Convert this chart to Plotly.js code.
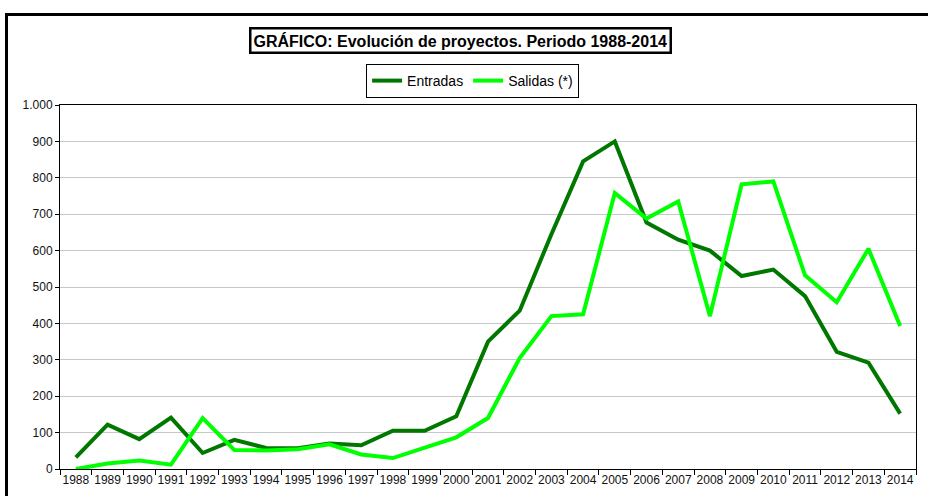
<!DOCTYPE html>
<html><head><meta charset="utf-8">
<script src="https://cdn.plot.ly/plotly-3.0.1.min.js"></script>
<style>
html,body{margin:0;padding:0;background:#fff;}
#wrap{position:relative;width:928px;height:496px;overflow:hidden;}
#frame{position:absolute;left:5px;top:13px;width:940px;height:500px;border-left:3px solid #000;border-top:3px solid #000;pointer-events:none;z-index:5;}
#chart{position:absolute;left:0;top:0;width:928px;height:496px;}
</style></head>
<body><div id="wrap"><div id="chart"></div><div id="frame"></div></div>
<script>
const years = ["1988","1989","1990","1991","1992","1993","1994","1995","1996","1997","1998","1999","2000","2001","2002","2003","2004","2005","2006","2007","2008","2009","2010","2011","2012","2013","2014"];
const entradas = [32,122,82,141,44,80,58,57,70,65,105,105,145,350,435,645,845,900,677,630,600,530,548,475,322,292,152];
const salidas = [0,15,23,12,140,52,51,54,68,40,30,58,87,140,305,420,425,758,688,735,420,782,790,532,458,605,393];
const yTicks = [0,100,200,300,400,500,600,700,800,900,1000];

const traces = [
  {x: years, y: entradas, type: 'scatter', mode: 'lines', name: 'Entradas',
   line: {color: '#007800', width: 4}},
  {x: years, y: salidas, type: 'scatter', mode: 'lines', name: 'Salidas (*)',
   line: {color: '#00FF00', width: 4}}
];

const layout = {
  width: 928, height: 496,
  margin: {l: 60, r: 12, t: 105, b: 27},
  paper_bgcolor: '#fff', plot_bgcolor: '#fff',
  font: {family: 'Liberation Sans, Arial, sans-serif', size: 12, color: '#111'},
  separators: ',.',
  showlegend: true,
  legend: {orientation: 'h', x: 0.482, xanchor: 'center', y: 1.1126, yanchor: 'top',
    xref: 'paper', yref: 'paper',
    bordercolor: '#000', borderwidth: 1, bgcolor: '#fff',
    font: {size: 14, family: 'Liberation Sans, Arial, sans-serif', color: '#000'}, itemwidth: 30,
    tracegroupgap: 0},
  annotations: [{
    text: '<b>GRÁFICO: Evolución de proyectos. Periodo 1988-2014</b>',
    xref: 'paper', yref: 'paper', x: 0.468, y: 1.177, xanchor: 'center', yanchor: 'middle',
    showarrow: false,
    font: {size: 16, family: 'Liberation Sans, Arial, sans-serif', color: '#000'},
    bordercolor: '#000', borderwidth: 2.5, borderpad: 2, bgcolor: '#fff'
  }],
  xaxis: {type: 'category', range: [-0.5, 26.5], showgrid: false,
    showline: true, linecolor: '#000', linewidth: 1, mirror: true,
    ticks: 'outside', tickson: 'boundaries', ticklen: 5, tickcolor: '#000',
    tickangle: 0, tickfont: {size: 12}, fixedrange: true},
  yaxis: {range: [0, 1000], tickvals: yTicks, tickformat: ',d',
    showgrid: true, gridcolor: '#c8c8c8', gridwidth: 1, zeroline: false,
    showline: true, linecolor: '#000', linewidth: 1, mirror: true,
    ticks: 'outside', ticklen: 4, tickcolor: '#000',
    tickfont: {size: 12}, fixedrange: true}
};
Plotly.newPlot('chart', traces, layout, {displayModeBar: false, staticPlot: true});
</script></body></html>
